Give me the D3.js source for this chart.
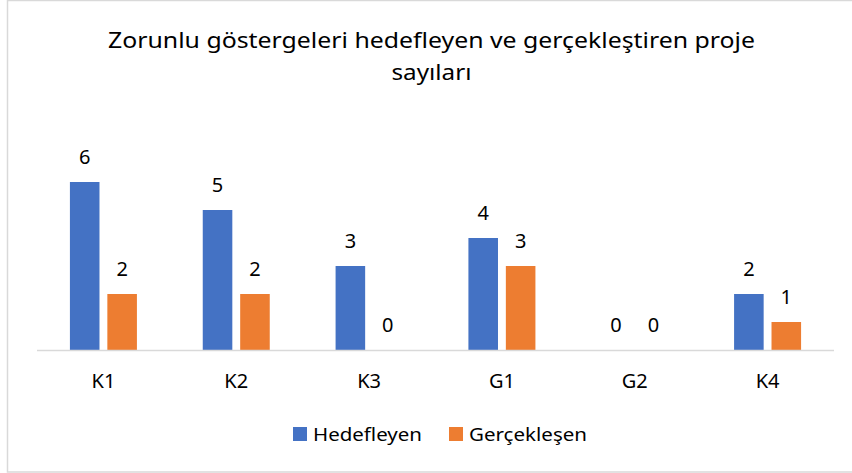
<!DOCTYPE html>
<html>
<head>
<meta charset="utf-8">
<script src="https://cdn.jsdelivr.net/npm/d3@7"></script>
<style>
  body { margin: 0; background: #fff; }
  text { font-family: "Noto Sans", "Open Sans", sans-serif; fill: #000; }
</style>
</head>
<body>
<div id="chart"></div>
<script>
// Chart data
var categories = ["K1", "K2", "K3", "G1", "G2", "K4"];
var seriesNames = ["Hedefleyen", "Gerçekleşen"];
var hedefleyen = [6, 5, 3, 4, 0, 2];
var gerceklesen = [2, 2, 0, 3, 0, 1];
var titleLines = ["Zorunlu göstergeleri hedefleyen ve gerçekleştiren proje", "sayıları"];
var colours = ["#4472C4", "#ED7D31"];

var width = 852, height = 473;

var svg = d3.select("#chart").append("svg")
  .attr("width", width)
  .attr("height", height);

// Background and chart border
svg.append("rect")
  .attr("x", 0).attr("y", 0)
  .attr("width", width).attr("height", height)
  .attr("fill", "#fff");
svg.append("rect")
  .attr("x", 7.5).attr("y", 0.5)
  .attr("width", width + 10).attr("height", height - 1.5)
  .attr("fill", "none")
  .attr("stroke", "#d9d9d9")
  .attr("stroke-width", 1.5);

// Title
svg.append("text")
  .attr("x", 431.5).attr("y", 48)
  .attr("text-anchor", "middle")
  .attr("font-size", 21)
  .attr("textLength", 647)
  .attr("lengthAdjust", "spacingAndGlyphs")
  .text(titleLines[0]);
svg.append("text")
  .attr("x", 431.5).attr("y", 80)
  .attr("text-anchor", "middle")
  .attr("font-size", 21)
  .attr("textLength", 80)
  .attr("lengthAdjust", "spacingAndGlyphs")
  .text(titleLines[1]);

// Scales
var x0 = d3.scaleBand()
  .domain(categories)
  .range([37, 834]);

var x1 = d3.scaleBand()
  .domain(seriesNames)
  .range([-33.5, 33.5])
  .paddingInner(0.21);

var y = d3.scaleLinear()
  .domain([0, 6])
  .range([350, 182]);

var rows = categories.map(function(c, i) {
  return { cat: c, values: [
    { name: seriesNames[0], value: hedefleyen[i], colour: colours[0] },
    { name: seriesNames[1], value: gerceklesen[i], colour: colours[1] }
  ]};
});

var groups = svg.selectAll("g.group")
  .data(rows)
  .enter().append("g")
  .attr("class", "group")
  .attr("transform", function(d) { return "translate(" + (x0(d.cat) + x0.bandwidth() / 2) + ",0)"; });

groups.selectAll("rect")
  .data(function(d) { return d.values; })
  .enter().append("rect")
  .attr("x", function(d) { return x1(d.name); })
  .attr("y", function(d) { return y(d.value); })
  .attr("width", x1.bandwidth())
  .attr("height", function(d) { return y(0) - y(d.value); })
  .attr("fill", function(d) { return d.colour; });

// Value labels
groups.selectAll("text.val")
  .data(function(d) { return d.values; })
  .enter().append("text")
  .attr("class", "val")
  .attr("x", function(d) { return x1(d.name) + x1.bandwidth() / 2; })
  .attr("y", function(d) { return y(d.value) - 18; })
  .attr("text-anchor", "middle")
  .attr("font-size", 20)
  .text(function(d) { return d.value; });

// Axis line
svg.append("line")
  .attr("x1", 37).attr("x2", 834)
  .attr("y1", y(0) + 0.5).attr("y2", y(0) + 0.5)
  .attr("stroke", "#d9d9d9")
  .attr("stroke-width", 1.5);

// Category labels
svg.selectAll("text.cat")
  .data(categories)
  .enter().append("text")
  .attr("class", "cat")
  .attr("x", function(d) { return x0(d) + x0.bandwidth() / 2; })
  .attr("y", 388)
  .attr("text-anchor", "middle")
  .attr("font-size", 20)
  .text(function(d) { return d; });

// Legend
var legendX = [293, 449];
var legendW = [109, 118];
var legend = svg.selectAll("g.legend")
  .data(seriesNames)
  .enter().append("g")
  .attr("class", "legend")
  .attr("transform", function(d, i) { return "translate(" + legendX[i] + ",427)"; });

legend.append("rect")
  .attr("width", 14).attr("height", 14)
  .attr("fill", function(d, i) { return colours[i]; });

legend.append("text")
  .attr("x", 20).attr("y", 13.5)
  .attr("font-size", 18)
  .attr("textLength", function(d, i) { return legendW[i]; })
  .attr("lengthAdjust", "spacingAndGlyphs")
  .text(function(d) { return d; });
</script>
</body>
</html>
